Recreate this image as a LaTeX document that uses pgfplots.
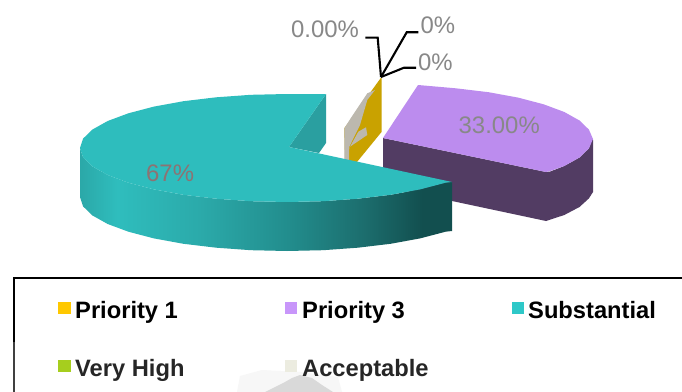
\documentclass[border=0pt]{standalone}
\usepackage{pgfplots}
\usepackage{fontspec}
\pgfplotsset{compat=1.18}
\setmainfont{Liberation Sans}
\definecolor{tealtop}{HTML}{2EBDBD}
\definecolor{tealinner}{HTML}{2A9FA0}
\definecolor{purpletop}{HTML}{BC8CEE}
\definecolor{purpleside}{HTML}{523C63}
\definecolor{goldside}{HTML}{C9A200}
\definecolor{greyside}{HTML}{BCB8AE}
\definecolor{labelgrey}{HTML}{888888}
% Lit wall of the large slice: the path's extent runs from 25bp to 75bp
\pgfdeclarehorizontalshading{tealwall}{100bp}{
  rgb(0bp)=(0.169,0.659,0.659);
  rgb(25bp)=(0.169,0.659,0.659);
  rgb(30bp)=(0.184,0.741,0.741);
  rgb(41bp)=(0.169,0.667,0.667);
  rgb(53bp)=(0.133,0.553,0.553);
  rgb(63bp)=(0.110,0.431,0.431);
  rgb(71bp)=(0.071,0.310,0.310);
  rgb(100bp)=(0.071,0.310,0.310)}
\newcommand{\pctlabel}[3]{\node[text=labelgrey,anchor=base west,inner sep=0pt,font=\fontsize{23.9bp}{26bp}\selectfont] at (axis cs:#1,#2) {#3};}
\newcommand{\legendlabel}[4]{\node[text=#4,anchor=base west,inner sep=0pt,font=\fontsize{23.7bp}{26bp}\selectfont\bfseries] at (axis cs:#1,#2) {#3};}
\begin{document}
\begin{tikzpicture}
\begin{axis}[
  scale only axis, width=682bp, height=392bp,
  xmin=0, xmax=682, ymin=0, ymax=392, y dir=reverse,
  hide axis]
% page background
\addplot[fill=white,draw=none] coordinates {(0,0)(682,0)(682,392)(0,392)} --cycle;

% Priority 3 slice
\addplot[fill=purpleside,draw=none] coordinates {
 (383,138)(546,172)(550.3,171.5)(564.3,166)(579.5,157.5)(588.9,148.4)(592,139)
 (593,140)(593,192)(588.9,198.4)(579.5,207)(564.3,215)(546,221)(452,201)(383,186)} --cycle;
\addplot[fill=purpletop,draw=none] coordinates {
 (418,85)(455.8,88.3)(488.5,92.2)(518.1,97.6)(543.6,104.3)(564.3,112)(579.5,120.5)
 (588.9,129.6)(593,139)(588.9,148.4)(579.5,157.5)(564.3,166)(550.3,171)(546,172)(383,138)} --cycle;

% Thin slices seen edge-on
\addplot[fill=goldside,draw=none] coordinates {
 (381.5,77)(381.5,132)(357,162)(345,162)(344.3,128.3)} --cycle;
\addplot[fill=greyside,draw=none] coordinates {
 (344.3,128.3)(344.3,162)(349,160)(349.3,146.7)(360,125)(367.3,100)(375,90)(367.3,93.3)(351.7,116.7)} --cycle;
\addplot[fill=greyside,draw=none] coordinates {
 (350,146.7)(358.3,131.7)(366,127.3)(367.3,135)(355,143.3)} --cycle;

% Substantial slice: inner cut, outer wall, top face
\addplot[fill=tealinner,draw=none] coordinates {(326,94)(326,143)(319,153)(289,147)} --cycle;
\addplot[shade,shading=tealwall,draw=none] coordinates {
 (80,148)(80,197)(83.1,206.4)(92.5,215.5)(107.7,224)(128.4,231.7)(153.9,238.4)(183.5,243.8)
 (216.2,247.7)(251,250.2)(287,251)(323,250.2)(357.8,247.7)(390.5,243.8)(420.1,238.4)(445.6,231.7)
 (452,231)(452,182)(445.6,182.7)(420.1,189.4)(390.5,194.8)(357.8,198.7)(323,201.2)(287,202)
 (251,201.2)(216.2,198.7)(183.5,194.8)(153.9,189.4)(128.4,182.7)(107.7,175)(92.5,166.5)(83.1,157.4)} --cycle;
\addplot[fill=tealtop,draw=none] coordinates {
 (326,94)(287,94)(251,94.8)(216.2,97.3)(183.5,101.2)(153.9,106.6)(128.4,113.3)(107.7,121)
 (92.5,129.5)(83.1,138.6)(80,148)(83.1,157.4)(92.5,166.5)(107.7,175)(128.4,182.7)(153.9,189.4)
 (183.5,194.8)(216.2,198.7)(251,201.2)(287,202)(323,201.2)(357.8,198.7)(390.5,194.8)(420.1,189.4)
 (445.6,182.7)(452,182)(289,147)} --cycle;

% Leader lines
\addplot[black,line width=2.1bp] coordinates {(365.3,37.7)(377.7,37.7)(381,77)};
\addplot[black,line width=2.1bp] coordinates {(418.3,32.3)(406.7,32.3)(381,77)};
\addplot[black,line width=2.1bp] coordinates {(416,67.7)(404,67.7)(381,77)};

% Value labels
\pctlabel{291}{37}{0.00\%}
\pctlabel{420.5}{33}{0\%}
\pctlabel{418}{70}{0\%}
\pctlabel{458.5}{133}{33.00\%}
\node[text=black!50!white!90!red,anchor=base west,inner sep=0pt,font=\fontsize{23.9bp}{26bp}\selectfont] at (axis cs:146,181) {67\%};

% Faint mark behind the lower legend row
\addplot[fill=black!3,draw=none] coordinates {(237,392)(240,376)(262,370)(300,372)(338,377)(342,392)} --cycle;
\addplot[fill=black!15,draw=none] coordinates {(265,392)(275,387)(285,382)(292,378)(300,375)(312,378)(322,385)(333,392)} --cycle;

% Legend frame and entries
\addplot[black!75,line width=1.6bp] coordinates {(14,392)(14,342)};
\addplot[black,line width=2.2bp] coordinates {(14,342)(14,278)(682,278)};
\addplot[fill={rgb,255:red,255;green,200;blue,0},draw=none] coordinates {(58,302)(71,302)(71,314)(58,314)} --cycle;
\addplot[fill={rgb,255:red,200;green,150;blue,250},draw=none] coordinates {(285,302)(297,302)(297,314)(285,314)} --cycle;
\addplot[fill={rgb,255:red,46;green,200;blue,200},draw=none] coordinates {(512,302)(524,302)(524,314)(512,314)} --cycle;
\addplot[fill={rgb,255:red,166;green,206;blue,30},draw=none] coordinates {(58,360)(71,360)(71,372)(58,372)} --cycle;
\addplot[fill={rgb,255:red,236;green,236;blue,224},draw=none] coordinates {(285,360)(297,360)(297,372)(285,372)} --cycle;
\legendlabel{75}{318}{Priority 1}{black}
\legendlabel{302}{318}{Priority 3}{black}
\legendlabel{528}{318}{Substantial}{black}
\legendlabel{75}{376}{Very High}{black!85}
\legendlabel{302}{376}{Acceptable}{black!85}
\end{axis}
\end{tikzpicture}
\end{document}
